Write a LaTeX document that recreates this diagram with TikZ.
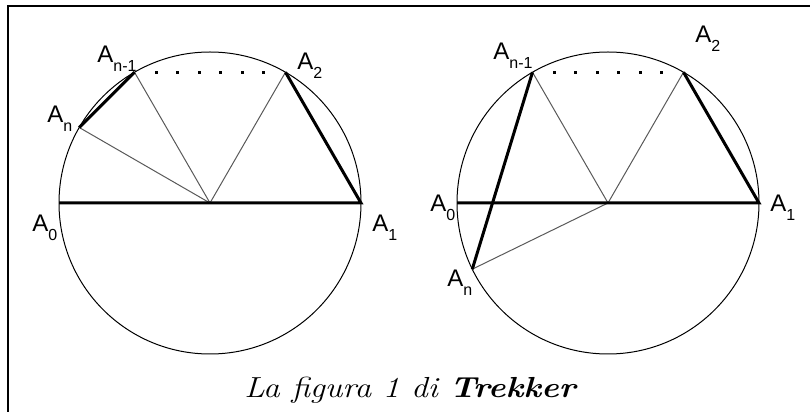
\documentclass[tikz,border=0pt]{standalone}
\usepackage{fontspec}
\usepackage{tikz}
\usetikzlibrary{calc}
\newfontfamily\labfont{Liberation Sans}
\newcommand{\vtx}[1]{A\raisebox{-4.5pt}{\fontsize{8}{9}\selectfont #1}}

\begin{document}
\begin{tikzpicture}[x=0.5pt, y=0.5pt,
  rim/.style={line width=0.5pt},
  chord/.style={line width=1.5pt},
  radius/.style={line width=0.5pt, black!65},
  lbl/.style={anchor=base west, inner sep=0pt, font=\labfont\fontsize{12}{14}\selectfont},
  dot/.style={fill, rectangle, inner sep=0pt, minimum size=1.5pt}
]
  \useasboundingbox (0,0) rectangle (810,412);
  \draw[line width=1pt] (7.5,0) -- (7.5,406) -- (810,406);

  % left circle
  \coordinate (L) at (210,209);
  \coordinate (L0) at ($(L)+(180:151)$);
  \coordinate (L1) at ($(L)+(0:151)$);
  \coordinate (L2) at ($(L)+(60:151)$);
  \coordinate (Lm) at ($(L)+(120:151)$);
  \coordinate (Ln) at ($(L)+(150:151)$);
  \draw[rim] (L) circle (151);
  \draw[radius] (L) -- (L2);
  \draw[radius] (L) -- (Lm);
  \draw[radius] (L) -- (Ln);
  \draw[chord] (L0) -- (L1) -- (L2);
  \draw[chord] (Lm) -- (Ln);
  \foreach \i in {1,...,6}
    \node[dot] (ldot\i) at ($(Lm)!\i/7!(L2)$) {};
  \node[lbl] (lA0) at (32,180) {\vtx{0}};
  \node[lbl] (lA1) at (372,180) {\vtx{1}};
  \node[lbl] (lA2) at (297,342) {\vtx{2}};
  \node[lbl] (lAm) at (97,349) {\vtx{n-1}};
  \node[lbl] (lAn) at (47,289) {\vtx{n}};

  % right circle
  \coordinate (R) at (608,209);
  \coordinate (R0) at ($(R)+(180:151)$);
  \coordinate (R1) at ($(R)+(0:151)$);
  \coordinate (R2) at ($(R)+(60:151)$);
  \coordinate (Rm) at ($(R)+(120:151)$);
  \coordinate (Rn) at ($(R)+(206:151)$);
  \draw[rim] (R) circle (151);
  \draw[radius] (R) -- (R2);
  \draw[radius] (R) -- (Rm);
  \draw[radius] (R) -- (Rn);
  \draw[chord] (R0) -- (R1) -- (R2);
  \draw[chord] (Rm) -- (Rn);
  \foreach \i in {1,...,6}
    \node[dot] (rdot\i) at ($(Rm)!\i/7!(R2)$) {};
  \node[lbl] (rA0) at (430,200) {\vtx{0}};
  \node[lbl] (rA1) at (770,200) {\vtx{1}};
  \node[lbl] (rA2) at (695,369) {\vtx{2}};
  \node[lbl] (rAm) at (493,352) {\vtx{n-1}};
  \node[lbl] (rAn) at (447,125) {\vtx{n}};

  \node[anchor=base, inner sep=0pt, xscale=1.15, font=\fontsize{14.5}{16}\selectfont] (caption) at (411,14)
    {\textit{La figura 1 di \textbf{Trekker}}};
\end{tikzpicture}
\end{document}
